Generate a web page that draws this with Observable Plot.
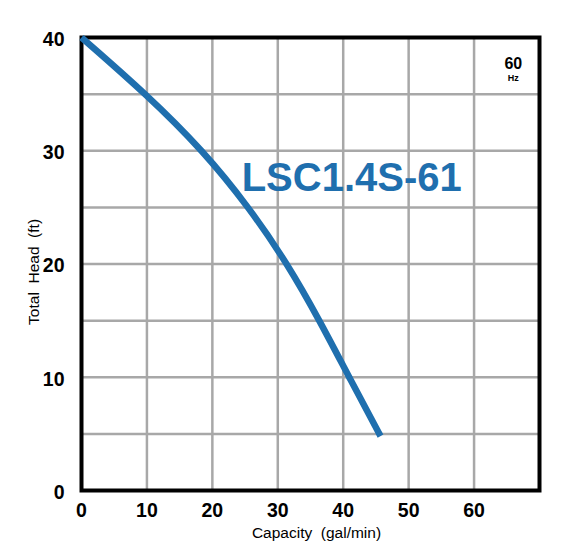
<!DOCTYPE html>
<html>
<head>
<meta charset="utf-8">
<script src="https://cdn.jsdelivr.net/npm/d3@7"></script>
<script src="https://cdn.jsdelivr.net/npm/@observablehq/plot@0.6"></script>
<style>
  html, body { margin: 0; padding: 0; background: #fff; }
  svg { display: block; }
</style>
</head>
<body>
<div id="chart"></div>
<script>
// Pump curve data
const capacity = [0, 9.9, 18.6, 25.6, 31.5, 36.4, 40.9, 45.7];   // gal/min
const head     = [40, 35, 30, 25, 20, 15, 10, 4.8];             // ft
const xTicks = [0, 10, 20, 30, 40, 50, 60];
const yTicks = [0, 10, 20, 30, 40];
const xGrid = [10, 20, 30, 40, 50, 60];
const yGrid = [5, 10, 15, 20, 25, 30, 35];
const modelName = ["LSC1.4S-61"];
const freqText = ["60"];
const freqUnit = ["Hz"];
const xTitle = ["Capacity  (gal/min)"];
const yTitle = ["Total  Head  (ft)"];

const curve = capacity.map((q, i) => ({q, h: head[i]}));
const blue = "#1f6fae";
const font = "Liberation Sans, Arial, Helvetica, sans-serif";

const chart = Plot.plot({
  width: 578,
  height: 559,
  marginLeft: 81,
  marginRight: 39,
  marginTop: 37,
  marginBottom: 69,
  style: {fontFamily: font, background: "#fff"},
  x: {domain: [0, 70]},
  y: {domain: [0, 40]},
  marks: [
    Plot.gridX(xGrid, {stroke: "#a8a8a8", strokeOpacity: 1, strokeWidth: 2.5}),
    Plot.gridY(yGrid, {stroke: "#a8a8a8", strokeOpacity: 1, strokeWidth: 2.5}),
    Plot.frame({stroke: "#000", strokeWidth: 4}),
    Plot.axisX({ticks: xTicks, tickSize: 0, tickPadding: 13, fontSize: 19.5, fontWeight: "bold", label: null, fill: "#000"}),
    Plot.axisY({ticks: yTicks, tickSize: 0, tickPadding: 17, fontSize: 19.5, fontWeight: "bold", label: null, fill: "#000", dy: 2}),
    Plot.line(curve, {x: "q", y: "h", curve: "basis", stroke: blue, strokeWidth: 6.5, strokeLinecap: "butt"}),
    Plot.text(modelName, {x: () => 41.3, y: () => 27.6, text: d => d, fill: blue, fontSize: 40, fontWeight: "bold", textAnchor: "middle"}),
    Plot.text(freqText, {x: () => 66, y: () => 37.7, text: d => d, fill: "#000", fontSize: 16, fontWeight: "bold"}),
    Plot.text(freqUnit, {x: () => 66, y: () => 36.4, text: d => d, fill: "#000", fontSize: 9, fontWeight: "bold"}),
    Plot.text(xTitle, {frameAnchor: "bottom", dy: 47, dx: 6, text: d => d, fill: "#000", fontSize: 15.5}),
    Plot.text(yTitle, {x: () => -7.3, y: () => 19.3, rotate: -90, text: d => d, fill: "#000", fontSize: 15.5, clip: false})
  ]
});
document.getElementById("chart").appendChild(chart);
</script>
</body>
</html>
